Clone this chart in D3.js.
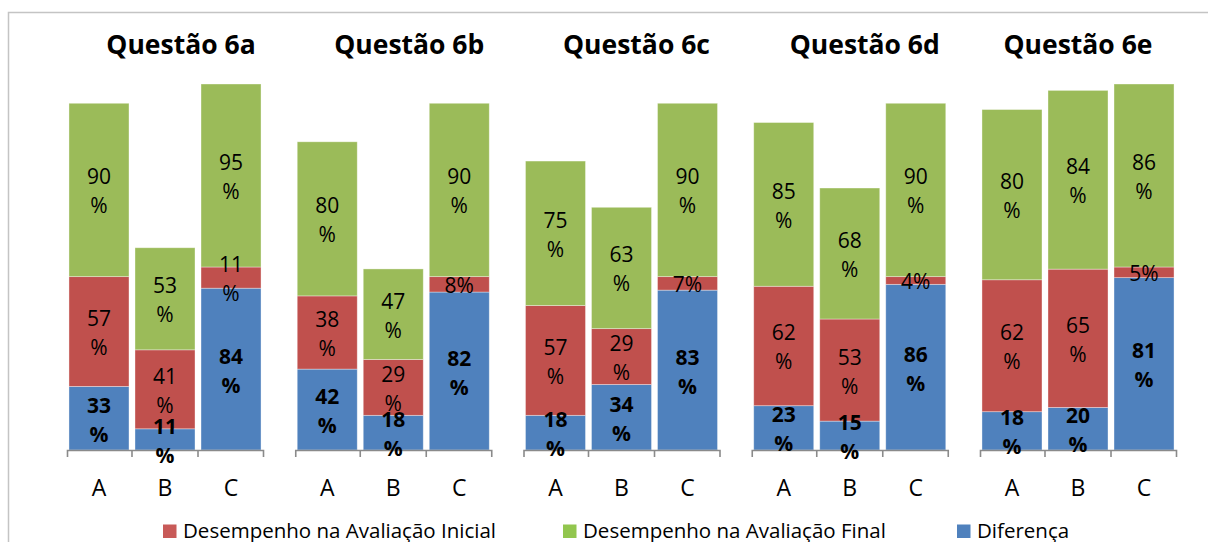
<!DOCTYPE html>
<html>
<head>
<meta charset="utf-8">
<script src="https://cdn.jsdelivr.net/npm/d3@7"></script>
<style>
  html, body { margin: 0; padding: 0; background: #fff; }
  svg { display: block; font-family: "Open Sans", "Noto Sans", sans-serif; }
</style>
</head>
<body>
<svg id="chart" width="1208" height="542"></svg>
<script>
// Questions, answer groups and the three series (percent)
const panelTitles = ["Questão 6a", "Questão 6b", "Questão 6c", "Questão 6d", "Questão 6e"];
const categories = ["A", "B", "C"];
const diferenca = [[33, 11, 84], [42, 18, 82], [18, 34, 83], [23, 15, 86], [18, 20, 81]];
const inicial   = [[57, 41, 11], [38, 29, 8],  [57, 29, 7],  [62, 53, 4],  [62, 65, 5]];
const final     = [[90, 53, 95], [80, 47, 90], [75, 63, 90], [85, 68, 90], [80, 84, 86]];
// Upper end of each panel's value axis
const axisMax = [190, 190, 190, 190, 172];

const seriesKeys = ["diferenca", "inicial", "final"];
const seriesColors = { diferenca: "#4F81BD", inicial: "#C0504D", final: "#9BBB59" };
const legendItems = [
  { key: "inicial", label: "Desempenho na Avaliação Inicial", color: "#C85A58", x: 163 },
  { key: "final", label: "Desempenho na Avaliação Final", color: "#92C64E", x: 563 },
  { key: "diferenca", label: "Diferença", color: "#4F81BD", x: 957 }
];

const svg = d3.select("#chart");

// outer frame (top and left edges visible)
svg.append("path")
  .attr("d", "M8.5,542 V12.5 H1208")
  .attr("fill", "none")
  .attr("stroke", "#c4c4c4")
  .attr("stroke-width", 1.5);

const baseY = 450, topY = 84;
const axisWidth = 196, panelStep = 228.25, firstX = 67;
const titleOffset = [16, 16, 15, 15, 0];

panelTitles.forEach((title, p) => {
  const x0 = firstX + p * panelStep;
  const rows = categories.map((c, i) => ({
    cat: c,
    diferenca: diferenca[p][i],
    inicial: inicial[p][i],
    final: final[p][i]
  }));

  const x = d3.scaleBand()
    .domain(categories)
    .range([x0, x0 + axisWidth])
    .paddingInner(0.091)
    .paddingOuter(0.03);
  const y = d3.scaleLinear().domain([0, axisMax[p]]).range([baseY, topY]);

  const stacked = d3.stack().keys(seriesKeys)(rows);

  const g = svg.append("g");

  // title
  g.append("text")
    .attr("x", x0 + axisWidth / 2 + titleOffset[p])
    .attr("y", 53.5)
    .attr("text-anchor", "middle")
    .attr("font-size", 26.5)
    .attr("font-weight", 700)
    .attr("fill", "#000")
    .text(title);

  // bars
  stacked.forEach(layer => {
    g.append("g")
      .selectAll("rect")
      .data(layer)
      .join("rect")
      .attr("x", d => x(d.data.cat))
      .attr("width", x.bandwidth())
      .attr("y", d => y(d[1]))
      .attr("height", d => y(d[0]) - y(d[1]))
      .attr("fill", seriesColors[layer.key])
      .attr("stroke", "rgba(255,255,255,0.45)")
      .attr("stroke-width", 0.8);
  });

  // category axis
  const axis = d3.axisBottom(x).tickSizeInner(0).tickSizeOuter(7).tickPadding(30);
  const ag = g.append("g").attr("transform", `translate(0,${baseY})`).call(axis);
  ag.select(".domain").attr("stroke", "#8a8a8a").attr("stroke-width", 1.6);
  ag.selectAll(".tick text")
    .attr("font-size", 23)
    .attr("font-family", "\"Open Sans\", \"Noto Sans\", sans-serif")
    .attr("fill", "#000");
  // dividers between categories
  categories.slice(1).forEach(c => {
    const bx = x(c) - x.step() * x.paddingInner() / 2;
    ag.append("line")
      .attr("x1", bx).attr("x2", bx)
      .attr("y1", 0).attr("y2", 7)
      .attr("stroke", "#8a8a8a").attr("stroke-width", 1.6);
  });

  // data labels
  stacked.forEach(layer => {
    const bold = layer.key === "diferenca";
    layer.forEach(d => {
      const v = d[1] - d[0];
      const cx = x(d.data.cat) + x.bandwidth() / 2;
      const cy = (y(d[0]) + y(d[1])) / 2 + 1;
      const t = g.append("text")
        .attr("text-anchor", "middle")
        .attr("font-size", 21)
        .attr("font-weight", bold ? 700 : 400)
        .attr("fill", "#000")
        .attr("dominant-baseline", "central");
      if (v < 10) {
        t.attr("x", cx).attr("y", cy).text(v + "%");
      } else {
        t.append("tspan").attr("x", cx).attr("y", cy - 14.5).text(v);
        t.append("tspan").attr("x", cx).attr("y", cy + 14.5).text("%");
      }
    });
  });
});

// legend
const lg = svg.append("g");
legendItems.forEach(item => {
  lg.append("rect")
    .attr("x", item.x).attr("y", 524.5)
    .attr("width", 13.5).attr("height", 13.5)
    .attr("fill", item.color);
  lg.append("text")
    .attr("x", item.x + 20)
    .attr("y", 537.5)
    .attr("font-size", 20.5)
    .attr("fill", "#000")
    .text(item.label);
});
</script>
</body>
</html>
